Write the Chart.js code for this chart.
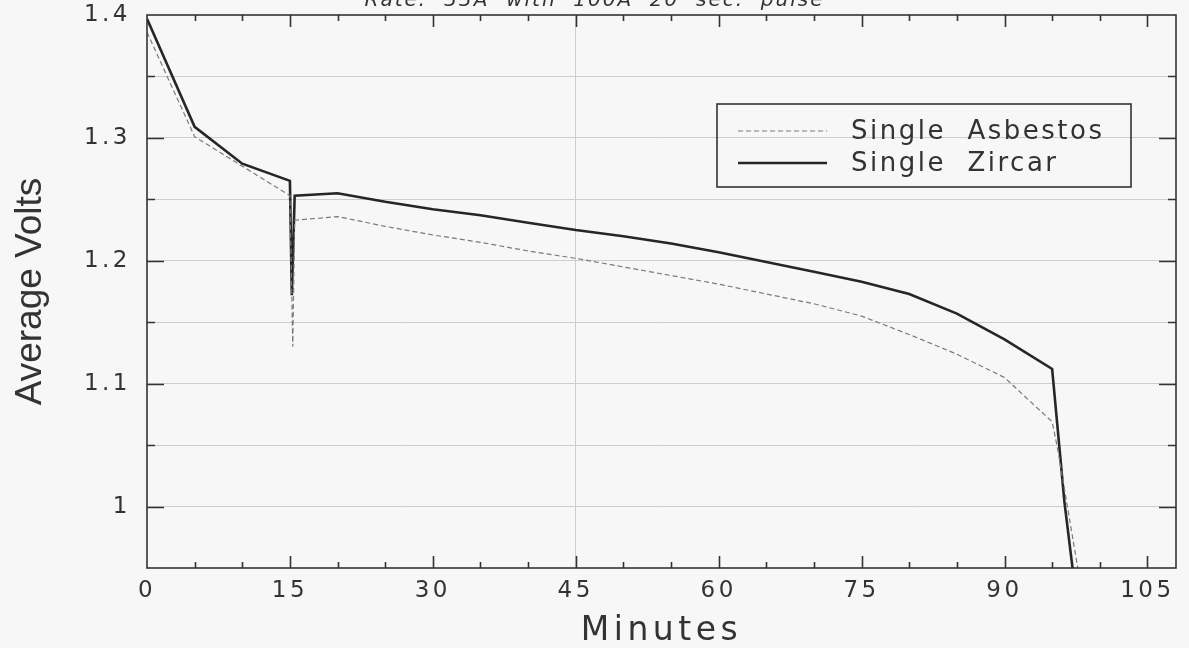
<!DOCTYPE html>
<html>
<head>
<meta charset="utf-8">
<title>Average Volts vs Minutes</title>
<script src="https://cdn.jsdelivr.net/npm/chart.js@4/dist/chart.umd.min.js"></script>
<style>
  html, body { margin: 0; padding: 0; background: #f7f7f7; overflow: hidden; }
  canvas { display: block; }
</style>
</head>
<body>
<canvas id="voltsChart" width="1189" height="648"></canvas>
<script>
// discharge curves, minutes vs average cell volts
const asbestosMinutes = [0, 5, 10, 15, 15.3, 15.5, 20, 25, 30, 35, 40, 45, 50, 55, 60, 65, 70, 75, 80, 85, 90, 95, 95.6, 97.8];
const asbestosVolts   = [1.386, 1.301, 1.277, 1.253, 1.130, 1.233, 1.236, 1.228, 1.221, 1.215, 1.208, 1.202, 1.195, 1.188, 1.181, 1.173, 1.165, 1.155, 1.140, 1.124, 1.105, 1.069, 1.046, 0.945];

const zircarMinutes = [0, 5, 10, 15, 15.2, 15.5, 20, 25, 30, 35, 40, 45, 50, 55, 60, 65, 70, 75, 80, 85, 90, 95, 96.3, 97.3];
const zircarVolts   = [1.397, 1.309, 1.279, 1.265, 1.172, 1.253, 1.255, 1.248, 1.242, 1.237, 1.231, 1.225, 1.220, 1.214, 1.207, 1.199, 1.191, 1.183, 1.173, 1.157, 1.136, 1.112, 1.003, 0.940];

const seriesNames = ['Single  Asbestos', 'Single  Zircar'];
const chartTitle = 'Rate:  33A  with  100A  20  sec.  pulse';

const minuteLabels = [0, 15, 30, 45, 60, 75, 90, 105];
const xMin = 0, xMax = 108, xMinor = 5, xMajor = 15;
const yMin = 0.95, yMax = 1.4, yMinor = 0.05;

const ink = '#333333';
const gridColor = '#cdcdcd';

function toPoints(xs, ys) {
  return xs.map((x, i) => ({ x: x, y: ys[i] }));
}

// run a scale draw method with its own letter spacing
function spaced(fn, px) {
  return function () {
    const ctx = this.ctx;
    ctx.save();
    ctx.letterSpacing = px + 'px';
    fn.apply(this, arguments);
    ctx.restore();
  };
}

const spacing = {
  id: 'spacing',
  afterLayout(chart) {
    const { x, y } = chart.scales;
    if (!x._spaced) {
      x.drawLabels = spaced(x.drawLabels, 3.5);
      x.drawTitle = spaced(x.drawTitle, 4.5);
      x._spaced = true;
    }
    if (!y._spaced) {
      y.drawLabels = spaced(y.drawLabels, 3.5);
      y.drawTitle = spaced(y.drawTitle, 0);
      y._spaced = true;
    }
  }
};

// italic heading, running off the top edge
const topTitle = {
  id: 'topTitle',
  afterDraw(chart) {
    const ctx = chart.ctx;
    ctx.save();
    ctx.font = 'italic 20px "DejaVu Sans"';
    ctx.letterSpacing = '2px';
    ctx.fillStyle = ink;
    ctx.textAlign = 'center';
    ctx.textBaseline = 'alphabetic';
    ctx.fillText(chartTitle, chart.width / 2, 6);
    ctx.restore();
  }
};

// frame plus inward tick marks on all four sides
const frameTicks = {
  id: 'frameTicks',
  afterDatasetsDraw(chart) {
    const { ctx, chartArea: a, scales: { x, y } } = chart;
    ctx.save();
    ctx.strokeStyle = ink;
    ctx.lineWidth = 1.6;
    ctx.strokeRect(a.left, a.top, a.right - a.left, a.bottom - a.top);
    ctx.beginPath();
    for (let v = xMinor; v < xMax; v += xMinor) {
      const px = Math.round(x.getPixelForValue(v)) + 0.5;
      const len = v % xMajor === 0 ? 12 : 6;
      ctx.moveTo(px, a.bottom); ctx.lineTo(px, a.bottom - len);
      ctx.moveTo(px, a.top); ctx.lineTo(px, a.top + len);
    }
    for (let i = 1; yMin + i * yMinor < yMax - 0.001; i++) {
      const v = yMin + i * yMinor;
      const py = Math.round(y.getPixelForValue(v)) + 0.5;
      const len = Math.round(v * 100) % 10 === 0 ? 17 : 8;
      ctx.moveTo(a.left, py); ctx.lineTo(a.left + len, py);
      ctx.moveTo(a.right, py); ctx.lineTo(a.right - len, py);
    }
    ctx.stroke();
    ctx.restore();
  }
};

// boxed legend in the upper right of the plot
const boxLegend = {
  id: 'boxLegend',
  afterDraw(chart) {
    const { ctx, chartArea: a } = chart;
    const left = a.left + 570, top = a.top + 89, w = 414, h = 83;
    ctx.save();
    ctx.strokeStyle = ink;
    ctx.lineWidth = 1.6;
    ctx.strokeRect(left, top, w, h);
    ctx.font = '26px "DejaVu Sans"';
    ctx.letterSpacing = '2.5px';
    ctx.fillStyle = ink;
    ctx.textBaseline = 'middle';
    chart.data.datasets.forEach((ds, i) => {
      const cy = top + 27 + i * 32;
      ctx.beginPath();
      ctx.strokeStyle = ds.borderColor;
      ctx.lineWidth = ds.borderWidth;
      ctx.setLineDash(ds.borderDash || []);
      ctx.moveTo(left + 21, cy);
      ctx.lineTo(left + 110, cy);
      ctx.stroke();
      ctx.setLineDash([]);
      ctx.fillText(ds.label, left + 134, cy + 1);
    });
    ctx.restore();
  }
};

new Chart(document.getElementById('voltsChart'), {
  type: 'line',
  data: {
    datasets: [
      {
        label: seriesNames[0],
        data: toPoints(asbestosMinutes, asbestosVolts),
        borderColor: '#7a7a7a',
        borderWidth: 1.2,
        borderDash: [5, 3],
        pointRadius: 0,
        tension: 0
      },
      {
        label: seriesNames[1],
        data: toPoints(zircarMinutes, zircarVolts),
        borderColor: '#262626',
        borderWidth: 2.6,
        pointRadius: 0,
        tension: 0
      }
    ]
  },
  options: {
    responsive: false,
    animation: false,
    devicePixelRatio: 1,
    layout: { padding: { left: 0, right: 13, top: 15, bottom: 0 } },
    plugins: {
      legend: { display: false },
      tooltip: { enabled: false },
      title: { display: false }
    },
    scales: {
      x: {
        type: 'linear',
        min: xMin,
        max: xMax,
        border: { display: false },
        grid: {
          drawTicks: false,
          color: ctx => (ctx.tick && ctx.tick.value === 45 ? gridColor : 'rgba(0,0,0,0)'),
          lineWidth: 1
        },
        ticks: {
          padding: 9,
          color: ink,
          maxRotation: 0,
          autoSkip: false,
          font: { family: 'DejaVu Sans', size: 23 }
        },
        afterBuildTicks: scale => {
          scale.ticks = minuteLabels.map(v => ({ value: v }));
        },
        afterFit: scale => {
          scale.height = 80;
          scale.paddingLeft = 0;
          scale.paddingRight = 0;
        },
        title: {
          display: true,
          text: 'Minutes',
          color: ink,
          font: { family: 'DejaVu Sans', size: 33, lineHeight: 1 },
          padding: { top: 0, bottom: 0 }
        }
      },
      y: {
        type: 'linear',
        min: yMin,
        max: yMax,
        border: { display: false },
        grid: {
          drawTicks: false,
          color: ctx => {
            const v = ctx.tick ? ctx.tick.value : 0;
            return v > yMin + 0.001 && v < yMax - 0.001 ? gridColor : 'rgba(0,0,0,0)';
          },
          lineWidth: 1
        },
        ticks: {
          stepSize: yMinor,
          padding: 16,
          color: ink,
          autoSkip: false,
          font: { family: 'DejaVu Sans', size: 23 },
          callback: v => (Math.round(v * 100) % 10 === 0 ? String(Math.round(v * 10) / 10) : '')
        },
        afterFit: scale => {
          scale.width = 147;
          scale.paddingTop = 0;
          scale.paddingBottom = 0;
        },
        title: {
          display: true,
          text: 'Average Volts',
          color: ink,
          font: { family: '"Liberation Sans"', size: 37, lineHeight: 1 },
          padding: { top: 12, bottom: 0 }
        }
      }
    }
  },
  plugins: [spacing, frameTicks, boxLegend, topTitle]
});
</script>
</body>
</html>
